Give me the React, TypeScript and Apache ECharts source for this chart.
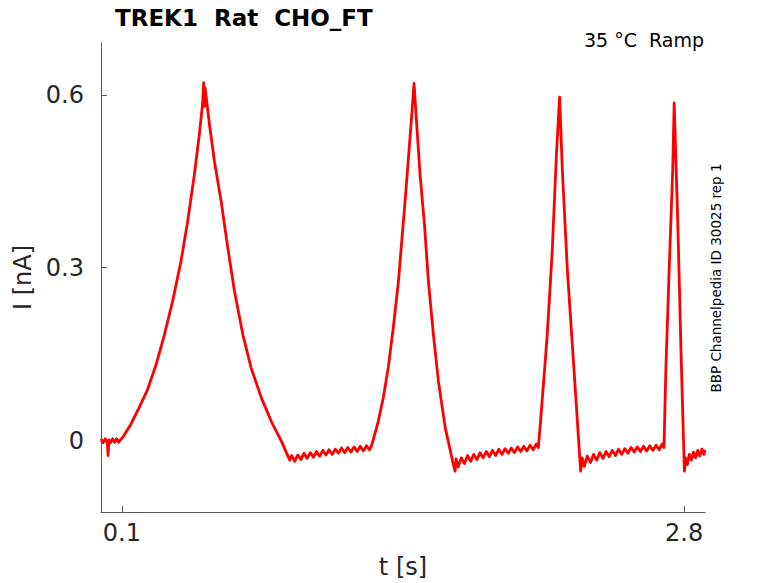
import React, { useEffect, useRef } from "react";
import * as echarts from "echarts";

// Time (s) and current (nA)
const tValues: number[] = [
  // holding before the first ramp
  0.0, 0.01, 0.02, 0.03, 0.034, 0.038, 0.045, 0.055, 0.065, 0.075, 0.085, 0.095,
  // ramp 1
  0.103, 0.143, 0.183, 0.223, 0.264, 0.304, 0.344, 0.384, 0.416, 0.448, 0.472, 0.488, 0.493, 0.497, 0.5,
  0.521, 0.545, 0.577, 0.609, 0.641, 0.681, 0.721, 0.77, 0.818, 0.866, 0.906,
  0.915, 0.93, 0.945, 0.96, 0.975, 0.99, 1.005, 1.02, 1.035, 1.05, 1.065, 1.08, 1.095, 1.11, 1.125,
  1.14, 1.155, 1.17, 1.185, 1.2, 1.215, 1.23, 1.245, 1.26, 1.275, 1.29, 1.3,
  // ramp 2
  1.331, 1.355, 1.379, 1.403, 1.428, 1.444, 1.46, 1.476, 1.492, 1.503,
  1.516, 1.532, 1.553, 1.572, 1.596, 1.62, 1.653, 1.692, 1.7,
  1.705, 1.715, 1.73, 1.745, 1.76, 1.775, 1.79, 1.805, 1.82, 1.835, 1.85, 1.865, 1.88, 1.895, 1.91,
  1.925, 1.94, 1.955, 1.97, 1.985, 2.0, 2.015, 2.03, 2.045, 2.06, 2.075, 2.09, 2.1,
  // ramp 3
  2.11, 2.142, 2.166, 2.187, 2.202,
  2.215, 2.239, 2.271, 2.303,
  2.31, 2.32, 2.335, 2.35, 2.365, 2.38, 2.395, 2.41, 2.425, 2.44, 2.455, 2.47, 2.485, 2.5, 2.515,
  2.53, 2.545, 2.56, 2.575, 2.59, 2.605, 2.62, 2.635, 2.65, 2.665, 2.68, 2.695, 2.703,
  // ramp 4
  2.712, 2.728, 2.745, 2.752,
  2.769, 2.785, 2.801,
  2.806, 2.815, 2.825, 2.835, 2.845, 2.855, 2.865, 2.875, 2.885, 2.895, 2.9,
];

const currentValues: number[] = [
  0.003, -0.004, 0.003, -0.003, -0.026, 0.001, -0.004, 0.003, -0.003, 0.003, -0.003, 0.002,
  0.005, 0.028, 0.057, 0.088, 0.131, 0.183, 0.242, 0.311, 0.38, 0.461, 0.531, 0.585, 0.621, 0.58, 0.612,
  0.548, 0.484, 0.415, 0.334, 0.259, 0.184, 0.126, 0.074, 0.033, -0.001, -0.034,
  -0.026, -0.036, -0.025, -0.033, -0.022, -0.031, -0.021, -0.029, -0.019, -0.027, -0.017, -0.025, -0.016, -0.024, -0.015,
  -0.022, -0.013, -0.021, -0.012, -0.02, -0.011, -0.019, -0.01, -0.018, -0.009, -0.016, -0.008,
  0.033, 0.074, 0.126, 0.195, 0.276, 0.346, 0.415, 0.49, 0.565, 0.62,
  0.548, 0.461, 0.375, 0.276, 0.184, 0.103, 0.022, -0.042, -0.053,
  -0.032, -0.046, -0.03, -0.04, -0.026, -0.036, -0.024, -0.033, -0.021, -0.03, -0.019, -0.028, -0.017, -0.026, -0.015,
  -0.024, -0.014, -0.022, -0.013, -0.021, -0.011, -0.019, -0.01, -0.018, -0.008, -0.016, -0.006, -0.012,
  0.031, 0.181, 0.325, 0.499, 0.596,
  0.47, 0.297, 0.123, -0.053,
  -0.03, -0.045, -0.027, -0.038, -0.024, -0.034, -0.021, -0.031, -0.019, -0.028, -0.017, -0.026, -0.015, -0.024, -0.014,
  -0.022, -0.012, -0.02, -0.011, -0.019, -0.01, -0.018, -0.009, -0.017, -0.008, -0.016, -0.006, -0.012,
  0.123, 0.297, 0.47, 0.586,
  0.383, 0.152, -0.053,
  -0.03, -0.042, -0.024, -0.034, -0.02, -0.03, -0.017, -0.027, -0.015, -0.024, -0.016,
];

const xTicks: number[] = [0.1, 2.8];
const yTicks: number[] = [0, 0.3, 0.6];

const titleText = "TREK1  Rat  CHO_FT";
const conditionText = "35 \u00B0C  Ramp";
const sourceText = "BBP Channelpedia ID 30025 rep 1";

const FONT = "DejaVu Sans";

export default function App() {
  const ref = useRef<HTMLDivElement>(null);

  useEffect(() => {
    if (!ref.current) return;
    const chart = echarts.init(ref.current, undefined, { renderer: "svg" });
    const data = tValues.map((t, i) => [t, currentValues[i]]);
    const axisColor = "#5a5a5a";
    const textColor = "#262626";

    chart.setOption({
      animation: false,
      backgroundColor: "#ffffff",
      grid: {
        left: 101,
        right: 73,
        top: 43,
        bottom: 71,
        containLabel: false,
        outerBoundsMode: "none",
      },
      xAxis: {
        type: "value",
        min: 0,
        max: 2.9,
        name: "t [s]",
        nameLocation: "middle",
        nameGap: 43,
        nameTextStyle: { fontSize: 24, fontFamily: FONT, color: textColor },
        axisLine: { show: true, onZero: false, lineStyle: { color: axisColor, width: 1 } },
        axisTick: { show: true, inside: true, length: 6, customValues: xTicks, lineStyle: { color: axisColor } },
        axisLabel: {
          customValues: xTicks,
          fontSize: 24,
          fontFamily: FONT,
          color: textColor,
          margin: 9,
          formatter: (v: number) => String(v),
        },
        splitLine: { show: false },
      },
      yAxis: {
        type: "value",
        min: -0.124,
        max: 0.69,
        name: "I [nA]",
        nameLocation: "middle",
        nameGap: 59,
        nameTextStyle: { fontSize: 24, fontFamily: FONT, color: textColor },
        axisLine: { show: true, onZero: false, lineStyle: { color: axisColor, width: 1 } },
        axisTick: { show: true, inside: true, length: 6, customValues: yTicks, lineStyle: { color: axisColor } },
        axisLabel: {
          customValues: yTicks,
          fontSize: 24,
          fontFamily: FONT,
          color: textColor,
          margin: 17,
          formatter: (v: number) => (v === 0 ? "0" : String(v)),
        },
        splitLine: { show: false },
      },
      series: [
        {
          type: "line",
          data,
          symbol: "none",
          lineStyle: { color: "#ff0000", width: 2.8, join: "round" },
          itemStyle: { color: "#ff0000" },
          z: 3,
        },
      ],
      graphic: [
        {
          type: "text",
          x: 115,
          y: 18,
          style: {
            text: titleText,
            font: `bold 23px "${FONT}"`,
            fill: "#000000",
            align: "left",
            verticalAlign: "middle",
          },
        },
        {
          type: "text",
          x: 704,
          y: 40,
          style: {
            text: conditionText,
            font: `19px "${FONT}"`,
            fill: "#000000",
            align: "right",
            verticalAlign: "middle",
          },
        },
        {
          type: "text",
          x: 716,
          y: 278,
          rotation: Math.PI / 2,
          style: {
            text: sourceText,
            font: `13.5px "${FONT}"`,
            fill: "#000000",
            align: "center",
            verticalAlign: "middle",
          },
        },
      ],
    });

    return () => {
      chart.dispose();
    };
  }, []);

  return (
    <div
      ref={ref}
      style={{ position: "absolute", left: 0, top: 0, width: 778, height: 583, background: "#fff" }}
    />
  );
}
